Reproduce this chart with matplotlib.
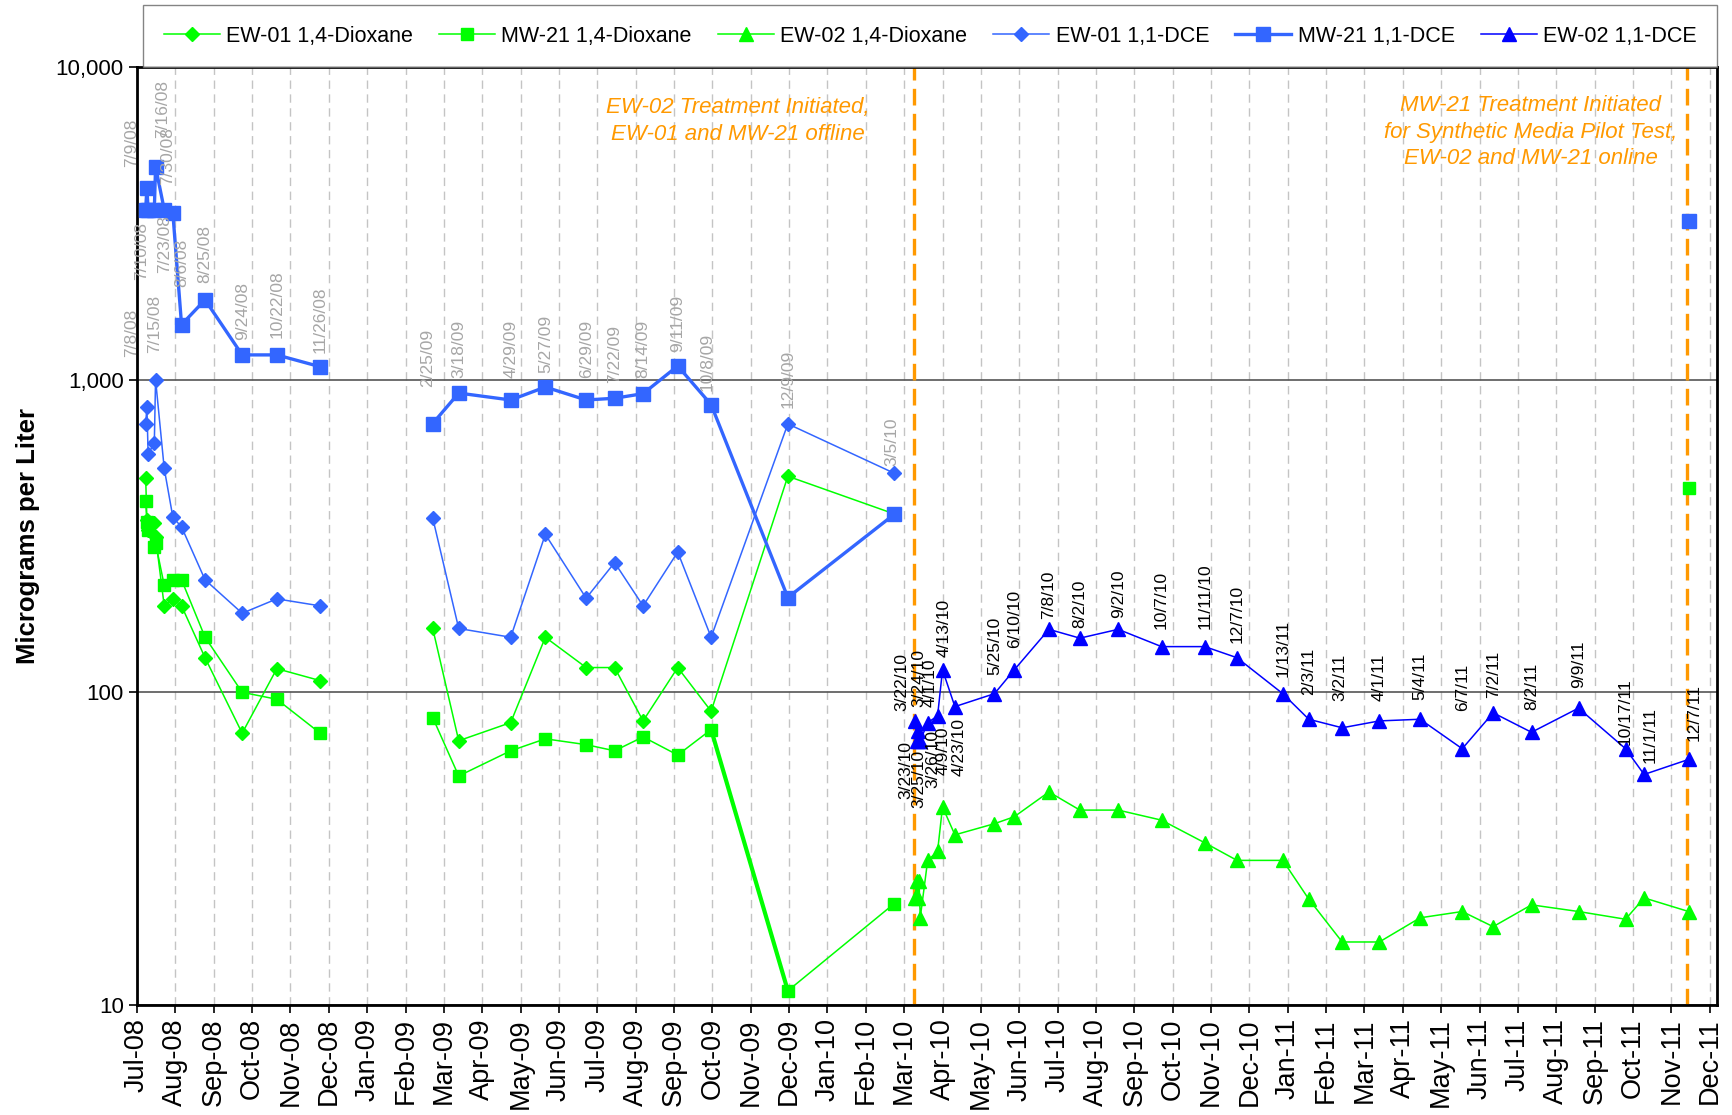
import numpy as np
import pandas as pd
import matplotlib
matplotlib.use('Agg')
import matplotlib.pyplot as plt
import matplotlib.dates as mdates
from matplotlib.ticker import FixedLocator, FuncFormatter, NullLocator

plt.rcParams['font.family'] = ['Liberation Sans', 'DejaVu Sans']

# EW-01 / MW-21 sampling, 2008
d08 = pd.to_datetime(['2008-07-08', '2008-07-09', '2008-07-10', '2008-07-15', '2008-07-16',
                      '2008-07-23', '2008-07-30', '2008-08-06', '2008-08-25', '2008-09-24',
                      '2008-10-22', '2008-11-26'])
ew01_dce_08 = [720, 819, 577, 629, 1000, 520, 363, 338, 229, 179, 199, 189]
mw21_dce_08 = [3500, 4100, 3500, 3500, 4800, 3500, 3400, 1500, 1800, 1200, 1200, 1100]
ew01_dx_08 = [486, 356, 330, 347, 314, 189, 199, 189, 129, 74, 119, 109]
mw21_dx_08 = [409, 350, 330, 292, 300, 220, 229, 229, 150, 100, 95, 74]

# EW-01 / MW-21 sampling, 2009 - 2010
d09 = pd.to_datetime(['2009-02-25', '2009-03-18', '2009-04-29', '2009-05-27', '2009-06-29',
                      '2009-07-22', '2009-08-14', '2009-09-11', '2009-10-08', '2009-12-09',
                      '2010-03-05'])
ew01_dce_09 = [361, 160, 150, 320, 200, 260, 189, 281, 150, 722, 502]
mw21_dce_09 = [724, 906, 861, 947, 861, 872, 902, 1106, 832, 201, 371]
ew01_dx_09 = [160, 70, 80, 150, 120, 120, 81, 120, 87, 491, 372]
mw21_dx_09 = [83, 54, 65, 71, 68, 65, 72, 63, 76, 11.1, 21.1]

# MW-21 pilot test
d11 = pd.to_datetime(['2011-12-07'])
mw21_dce_11 = [3210]
mw21_dx_11 = [450]

# EW-02 sampling
d_ew02 = pd.to_datetime(['2010-03-22', '2010-03-23', '2010-03-24', '2010-03-25', '2010-03-26',
                         '2010-04-01', '2010-04-09', '2010-04-13', '2010-04-23', '2010-05-25',
                         '2010-06-10', '2010-07-08', '2010-08-02', '2010-09-02', '2010-10-07',
                         '2010-11-11', '2010-12-07', '2011-01-13', '2011-02-03', '2011-03-02',
                         '2011-04-01', '2011-05-04', '2011-06-07', '2011-07-02', '2011-08-02',
                         '2011-09-09', '2011-10-17', '2011-11-01', '2011-12-07'])
ew02_dce = [81, 70, 75, 70, 70, 80, 84, 118, 90, 99, 118, 159, 149, 159, 140, 140, 129, 99,
            82, 77, 81, 82, 66, 86, 74.5, 89, 66, 54.6, 61]
ew02_dx = [22, 25, 22, 25, 19, 29, 31, 43, 35, 38, 40, 48, 42, 42, 39, 33, 29, 29,
           21.8, 15.9, 15.9, 19, 19.9, 17.8, 20.9, 19.9, 18.8, 22, 19.9]

# date labels (grey = EW-01/MW-21 events, black = EW-02 events)
grey_lbl = ['7/8/08', '7/9/08', '7/10/08', '7/15/08', '7/16/08', '7/23/08', '7/30/08', '8/6/08',
            '8/25/08', '9/24/08', '10/22/08', '11/26/08', '2/25/09', '3/18/09', '4/29/09',
            '5/27/09', '6/29/09', '7/22/09', '8/14/09', '9/11/09', '10/8/09', '12/9/09', '3/5/10']
grey_base = [1180, 4790, 2080, 1220, 5930, 2190, 4190, 1980, 2040, 1340, 1360, 1220, 948, 1012,
             1012, 1052, 1012, 973, 1012, 1228, 922, 809, 530]
grey_dx = [-10, -11, -5, 0, 5, 0, -4, 0, 0, 0, 0, 0, -4, 0, 0, 0, 0, 0, 0, 0, -3, 0, -2]

up_lbl = ['3/22/10', '3/24/10', '4/1/10', '4/13/10', '5/25/10', '6/10/10', '7/8/10', '8/2/10',
          '9/2/10', '10/7/10', '11/11/10', '12/7/10', '1/13/11', '2/3/11', '3/2/11', '4/1/11',
          '5/4/11', '6/7/11', '7/2/11', '8/2/11', '9/9/11', '10/17/11', '11/1/11', '12/7/11']
up_base = [87, 90, 90, 130, 114, 139, 171, 161, 173, 159, 159, 144, 112, 98, 93.6, 93.6,
           94.7, 87, 96, 88, 103, 68, 59.4, 69.7]
up_dx = [-10, 1, 2, 1, 0, 0, 0, 0, 0, 0, 0, 0, 0, 0, -2, 0, 0, 0, 0, 0, 0, 0, 4, 4]

down_lbl = ['3/23/10', '3/25/10', '3/26/10', '4/9/10', '4/23/10']
down_top = [69.7, 65.6, 76, 77.8, 82.8]
down_dx = [-8, 0, 9, 4, 3]

notes = ['EW-02 Treatment Initiated,\nEW-01 and MW-21 offline',
         'MW-21 Treatment Initiated\nfor Synthetic Media Pilot Test,\nEW-02 and MW-21 online']
events = pd.to_datetime(['2010-03-21', '2011-12-06'])

GREEN = '#00FF00'
BLUE = '#3366FF'
DBLUE = '#0000FF'
ORANGE = '#FF9900'

fig = plt.figure(figsize=(17.32, 11.15), dpi=100)
ax = fig.add_axes([0.0791, 0.0987, 0.9123, 0.8412])
ax.set_yscale('log')

# vertical events
for d in events:
    ax.axvline(d, color=ORANGE, lw=2.4, linestyle=(0, (5, 2.5)), zorder=2)

# 1,4-dioxane
l1, = ax.plot(d08, ew01_dx_08, color=GREEN, lw=1.1, marker='D', ms=7, mec=GREEN, zorder=3,
              label='EW-01 1,4-Dioxane')
ax.plot(d09, ew01_dx_09, color=GREEN, lw=1.1, marker='D', ms=7, mec=GREEN, zorder=3)
l2, = ax.plot(d08, mw21_dx_08, color=GREEN, lw=1.1, marker='s', ms=9, mec=GREEN, zorder=3,
              label='MW-21 1,4-Dioxane')
ax.plot(d09, mw21_dx_09, color=GREEN, lw=1.1, marker='s', ms=9, mec=GREEN, zorder=3)
ax.plot(d09[8:10], mw21_dx_09[8:10], color=GREEN, lw=3, zorder=3)
ax.plot(d11, mw21_dx_11, color=GREEN, lw=0, marker='s', ms=9, mec=GREEN, zorder=3)
l3, = ax.plot(d_ew02, ew02_dx, color=GREEN, lw=1.1, marker='^', ms=10, mec=GREEN, zorder=3,
              label='EW-02 1,4-Dioxane')

# 1,1-DCE
l4, = ax.plot(d08, ew01_dce_08, color=BLUE, lw=1.1, marker='D', ms=7, mec=BLUE, zorder=4,
              label='EW-01 1,1-DCE')
ax.plot(d09, ew01_dce_09, color=BLUE, lw=1.1, marker='D', ms=7, mec=BLUE, zorder=4)
l5, = ax.plot(d08, mw21_dce_08, color=BLUE, lw=2.4, marker='s', ms=10.5, mec=BLUE, zorder=4,
              label='MW-21 1,1-DCE')
ax.plot(d09, mw21_dce_09, color=BLUE, lw=2.4, marker='s', ms=10.5, mec=BLUE, zorder=4)
ax.plot(d11, mw21_dce_11, color=BLUE, lw=0, marker='s', ms=10.5, mec=BLUE, zorder=4)
l6, = ax.plot(d_ew02, ew02_dce, color=DBLUE, lw=1.1, marker='^', ms=10.5, mec=DBLUE, zorder=4,
              label='EW-02 1,1-DCE')

# date labels
LBL = 12.5
for t, b, dx in zip(grey_lbl, grey_base, grey_dx):
    ax.annotate(t, (pd.to_datetime(t, format='%m/%d/%y'), b), xytext=(dx, 0),
                textcoords='offset points', rotation=90, ha='center', va='bottom',
                fontsize=LBL, color='#A6A6A6', zorder=5)
for t, b, dx in zip(up_lbl, up_base, up_dx):
    ax.annotate(t, (pd.to_datetime(t, format='%m/%d/%y'), b), xytext=(dx, 0),
                textcoords='offset points', rotation=90, ha='center', va='bottom',
                fontsize=LBL, color='black', zorder=5)
for t, b, dx in zip(down_lbl, down_top, down_dx):
    ax.annotate(t, (pd.to_datetime(t, format='%m/%d/%y'), b), xytext=(dx, 0),
                textcoords='offset points', rotation=90, ha='center', va='top',
                fontsize=LBL, color='black', zorder=5)

ax.text(0.380, 0.968, notes[0], transform=ax.transAxes, ha='center', va='top',
        fontsize=16, style='italic', color=ORANGE, linespacing=1.35)
ax.text(0.882, 0.970, notes[1], transform=ax.transAxes, ha='center', va='top',
        fontsize=16, style='italic', color=ORANGE, linespacing=1.35)

# axes
start = pd.Timestamp('2008-07-01')
xticks = [start + pd.Timedelta(days=31 * k) for k in range(42)]
ax.set_xlim(start, pd.Timestamp('2011-12-30'))
ax.xaxis.set_major_locator(FixedLocator(mdates.date2num(xticks)))
ax.xaxis.set_major_formatter(mdates.DateFormatter('%b-%y'))
ax.xaxis.set_minor_locator(NullLocator())
plt.setp(ax.get_xticklabels(), rotation=90, fontsize=19.5)

ax.set_ylim(10, 10000)
ax.yaxis.set_major_locator(FixedLocator([10, 100, 1000, 10000]))
ax.yaxis.set_minor_locator(NullLocator())
ax.yaxis.set_major_formatter(FuncFormatter(lambda v, p: f'{v:,.0f}'))
plt.setp(ax.get_yticklabels(), fontsize=16)
ax.set_ylabel('Micrograms per Liter', fontsize=18.5, fontweight='bold', labelpad=11)

ax.tick_params(axis='both', direction='out', length=6, width=1.2, color='black')
ax.xaxis.grid(True, color='#C4C4C4', lw=1, linestyle=(0, (6, 4)))
ax.yaxis.grid(True, color='#555555', lw=1.2)
ax.set_axisbelow(True)
for s in ax.spines.values():
    s.set_linewidth(2)
    s.set_color('black')

leg = ax.legend(handles=[l1, l2, l3, l4, l5, l6], ncol=6, loc='lower left',
                bbox_to_anchor=(0.004, 1.0, 0.996, 0.066), mode='expand', borderaxespad=0,
                fontsize=15.5, frameon=True, fancybox=False, handlelength=2.6,
                handletextpad=0.3, columnspacing=1.0, borderpad=0.95)
leg.get_frame().set_edgecolor('#666666')
leg.get_frame().set_linewidth(1)

fig.savefig('out.png', dpi=100)
